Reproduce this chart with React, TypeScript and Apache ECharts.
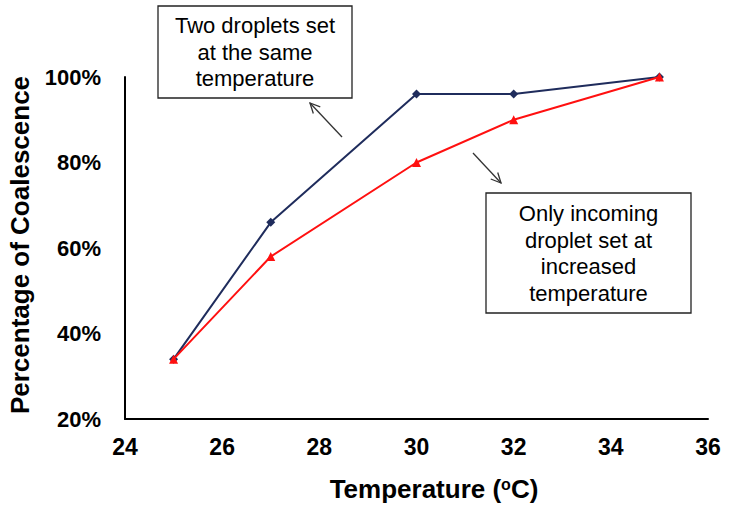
import React, { useEffect, useRef } from "react";
import * as echarts from "echarts";

const temperatures = [25, 27, 30, 32, 35];
const sameTemp = [34, 66, 96, 96, 100];
const incomingOnly = [34, 58, 80, 90, 100];
const xTicks = { min: 24, max: 36, interval: 2 };
const yTicks = { min: 20, max: 100, interval: 20 };

const FONT = "'Liberation Sans', Arial, sans-serif";

function arrow(x1: number, y1: number, x2: number, y2: number) {
  const dx = x2 - x1;
  const dy = y2 - y1;
  const len = Math.sqrt(dx * dx + dy * dy);
  const ux = dx / len;
  const uy = dy / len;
  const hl = 11;
  const a = Math.PI / 7;
  const p1 = [x2 - hl * (ux * Math.cos(a) - uy * Math.sin(a)), y2 - hl * (uy * Math.cos(a) + ux * Math.sin(a))];
  const p2 = [x2 - hl * (ux * Math.cos(a) + uy * Math.sin(a)), y2 - hl * (uy * Math.cos(a) - ux * Math.sin(a))];
  const style = { stroke: "#333", lineWidth: 1.3, fill: "none" };
  return [
    { type: "line", shape: { x1, y1, x2, y2 }, style },
    { type: "polyline", shape: { points: [p1, [x2, y2], p2] }, style },
  ];
}

function box(x: number, y: number, w: number, h: number, lines: string[], lineY: number[]) {
  const els: any[] = [
    { type: "rect", shape: { x, y, width: w, height: h }, style: { fill: "#fff", stroke: "#222", lineWidth: 1.3 } },
  ];
  lines.forEach((t, i) => {
    els.push({
      type: "text",
      x: x + w / 2,
      y: lineY[i],
      style: { text: t, font: `22px ${FONT}`, fill: "#000", align: "center", verticalAlign: "middle" },
    });
  });
  return els;
}

export default function App() {
  const ref = useRef<HTMLDivElement>(null);
  useEffect(() => {
    if (!ref.current) return;
    const chart = echarts.init(ref.current, null, { renderer: "svg" });
    const toPairs = (ys: number[]) => temperatures.map((t, i) => [t, ys[i]]);
    chart.setOption({
      animation: false,
      backgroundColor: "#fff",
      grid: { left: 125, right: 22, top: 77, bottom: 90 },
      xAxis: {
        type: "value",
        min: xTicks.min,
        max: xTicks.max,
        interval: xTicks.interval,
        axisLine: { show: true, lineStyle: { color: "#000", width: 2 } },
        axisTick: { show: false },
        splitLine: { show: false },
        axisLabel: { color: "#000", fontWeight: "bold", fontSize: 23, fontFamily: FONT, margin: 16 },
      },
      yAxis: {
        type: "value",
        min: yTicks.min,
        max: yTicks.max,
        interval: yTicks.interval,
        axisLine: { show: true, lineStyle: { color: "#000", width: 2 } },
        axisTick: { show: false },
        splitLine: { show: false },
        axisLabel: { color: "#000", fontWeight: "bold", fontSize: 22, fontFamily: FONT, margin: 24, formatter: "{value}%" },
      },
      series: [
        {
          name: "Two droplets set at the same temperature",
          type: "line",
          data: toPairs(sameTemp),
          symbol: "diamond",
          symbolSize: 9,
          itemStyle: { color: "#1F2C5C" },
          lineStyle: { color: "#1F2C5C", width: 2 },
          z: 3,
        },
        {
          name: "Only incoming droplet set at increased temperature",
          type: "line",
          data: toPairs(incomingOnly),
          symbol: "triangle",
          symbolSize: 9,
          itemStyle: { color: "#FF1010" },
          lineStyle: { color: "#FF1010", width: 2 },
          z: 4,
        },
      ],
      graphic: [
        {
          type: "text",
          x: 434,
          y: 489,
          style: {
            text: "{m|Temperature (}{s|o}{m|C)}",
            align: "center",
            verticalAlign: "middle",
            rich: {
              m: { font: `bold 26px ${FONT}`, fill: "#000" },
              s: { font: `bold 16px ${FONT}`, fill: "#000", verticalAlign: "top", padding: [0, 0, 10, 0] },
            },
          },
        },
        {
          type: "text",
          x: 20,
          y: 245,
          rotation: Math.PI / 2,
          style: {
            text: "Percentage of Coalescence",
            font: `bold 26px ${FONT}`,
            fill: "#000",
            align: "center",
            verticalAlign: "middle",
          },
        },
        ...box(158, 6, 194, 92, ["Two droplets set", "at the same", "temperature"], [25, 52, 78]),
        ...box(486, 193, 205, 120, ["Only incoming", "droplet set at", "increased", "temperature"], [213, 240, 266, 293]),
        ...arrow(342, 137, 310, 103),
        ...arrow(473, 153, 501, 183),
      ],
    });
    return () => chart.dispose();
  }, []);
  return <div ref={ref} style={{ width: 730, height: 509, position: "absolute", left: 0, top: 0 }} />;
}
